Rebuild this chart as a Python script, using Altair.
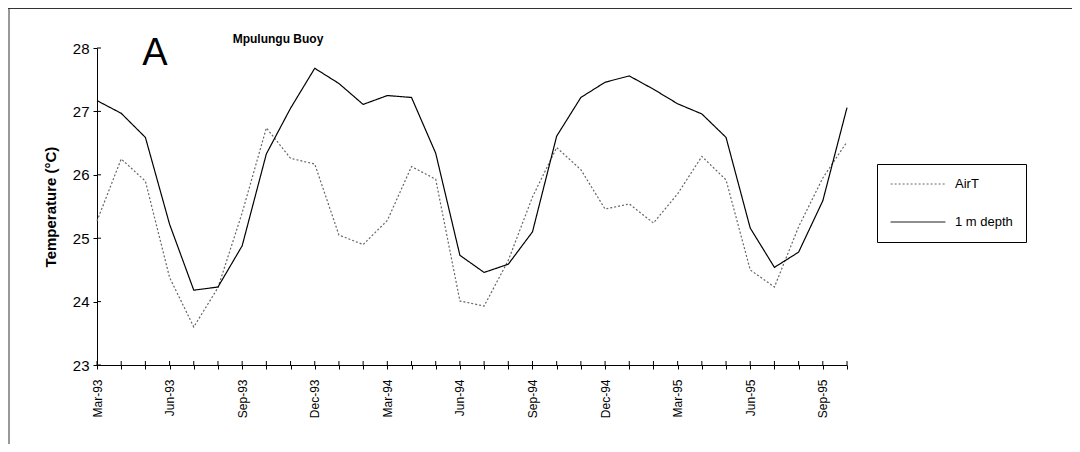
import json
import altair as alt
import pandas as pd

months = ["Mar-93", "Apr-93", "May-93", "Jun-93", "Jul-93", "Aug-93", "Sep-93", "Oct-93",
          "Nov-93", "Dec-93", "Jan-94", "Feb-94", "Mar-94", "Apr-94", "May-94", "Jun-94",
          "Jul-94", "Aug-94", "Sep-94", "Oct-94", "Nov-94", "Dec-94", "Jan-95", "Feb-95",
          "Mar-95", "Apr-95", "May-95", "Jun-95", "Jul-95", "Aug-95", "Sep-95", "Oct-95"]

air_t = [25.27, 26.25, 25.90, 24.38, 23.60, 24.22, 25.40, 26.74,
         26.26, 26.17, 25.05, 24.90, 25.28, 26.13, 25.93, 24.01,
         23.93, 24.65, 25.65, 26.43, 26.08, 25.46, 25.54, 25.24,
         25.70, 26.29, 25.92, 24.50, 24.23, 25.18, 25.95, 26.52]

depth_1m = [27.17, 26.97, 26.59, 25.22, 24.18, 24.23, 24.88, 26.33,
            27.05, 27.68, 27.44, 27.11, 27.25, 27.22, 26.34, 24.73,
            24.46, 24.59, 25.10, 26.61, 27.22, 27.46, 27.56, 27.35,
            27.12, 26.96, 26.59, 25.16, 24.54, 24.78, 25.59, 27.06]

series_names = ["AirT", "1 m depth"]
y_ticks = [23, 24, 25, 26, 27, 28]
quarter_labels = ["Mar-93", "Jun-93", "Sep-93", "Dec-93", "Mar-94", "Jun-94",
                  "Sep-94", "Dec-94", "Mar-95", "Jun-95", "Sep-95"]
panel_letter = "A"
panel_title = "Mpulungu Buoy"
y_title = "Temperature (°C)"

rows = []
for m, a, d in zip(months, air_t, depth_1m):
    rows.append({"month": m, "series": series_names[0], "temp": a})
    rows.append({"month": m, "series": series_names[1], "temp": d})
df = pd.DataFrame(rows)

W, H = 750, 317
FONT = "Liberation Sans"

x_enc = alt.X(
    "month:N", sort=months,
    scale=alt.Scale(type="point", padding=0),
    axis=alt.Axis(
        title=None, labelAngle=270, labelAlign="right", labelBaseline="middle",
        labelPadding=10, tickSize=4, tickColor="black", domainColor="black",
        labelColor="black", labelFont=FONT, labelFontSize=12, grid=False,
        labelExpr="indexof(" + json.dumps(quarter_labels) + ", datum.value) >= 0 ? datum.value : ''",
    ),
)
y_enc = alt.Y(
    "temp:Q",
    scale=alt.Scale(domain=[23, 28], nice=False, zero=False),
    axis=alt.Axis(
        title=y_title, values=y_ticks, format="d", tickSize=4, tickColor="black",
        domainColor="black", labelColor="black", labelFont=FONT, labelFontSize=15,
        labelPadding=4, titleFont=FONT, titleFontSize=15, titleFontWeight="bold",
        titleColor="black", titlePadding=14, grid=False,
    ),
)

legend = alt.Legend(
    title=None, orient="none", legendX=780, legendY=116,
    strokeColor="black", fillColor="white", padding=13, rowPadding=24,
    labelFont=FONT, labelFontSize=13, labelColor="black", labelOffset=9,
    symbolType="stroke", symbolSize=3000, symbolStrokeWidth=1, clipHeight=14,
)

lines = alt.Chart(df).mark_line(strokeWidth=1.2).encode(
    x=x_enc,
    y=y_enc,
    color=alt.Color("series:N", sort=series_names,
                    scale=alt.Scale(domain=series_names, range=["#666666", "#000000"]),
                    legend=legend),
    strokeDash=alt.StrokeDash("series:N", sort=series_names,
                              scale=alt.Scale(domain=series_names, range=[[2, 2], [1, 0]]),
                              legend=legend),
)

xt = alt.Chart(pd.DataFrame({"month": months})).mark_rule(color="black").encode(
    x=alt.X("month:N", sort=months), y=alt.value(H - 4), y2=alt.value(H)
)
yt = alt.Chart(pd.DataFrame({"temp": y_ticks})).mark_rule(color="black").encode(
    y="temp:Q", x=alt.value(0), x2=alt.value(4)
)

title_txt = alt.Chart(pd.DataFrame({"t": [panel_title]})).mark_text(
    font=FONT, fontSize=12, fontWeight="bold", color="black", align="center", baseline="middle"
).encode(text="t:N", x=alt.value(181), y=alt.value(-9))

letter_txt = alt.Chart(pd.DataFrame({"t": [panel_letter]})).mark_text(
    font=FONT, fontSize=38, color="black", align="center", baseline="alphabetic"
).encode(text="t:N", x=alt.value(58), y=alt.value(17))

frame_left = alt.Chart(pd.DataFrame({"t": [0]})).mark_rule(color="#333333", strokeWidth=1).encode(
    x=alt.value(-88), y=alt.value(-40), y2=alt.value(H + 80)
)
frame_top = alt.Chart(pd.DataFrame({"t": [0]})).mark_rule(color="#333333", strokeWidth=1).encode(
    y=alt.value(-39.5), x=alt.value(-89), x2=alt.value(W + 226)
)

chart = alt.layer(
    frame_left, frame_top, lines, xt, yt, title_txt, letter_txt
).properties(
    width=W, height=H,
    background="white",
    padding={"left": 89, "top": 40, "right": 225, "bottom": 79},
    autosize=alt.AutoSizeParams(type="none"),
).configure_view(stroke="transparent", strokeWidth=0)

chart.save("out.html", embed_options={"renderer": "svg", "actions": False})
